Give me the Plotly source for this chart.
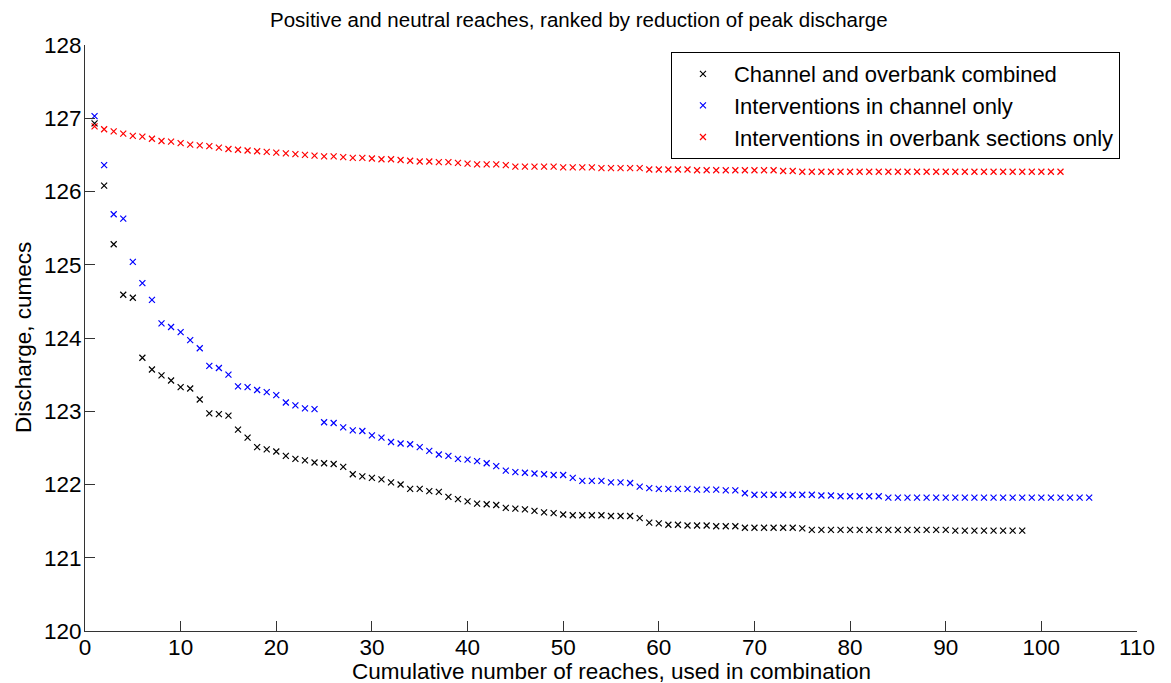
import plotly.graph_objects as go

# ---- data ----
combined = [126.93, 126.08, 125.28, 124.59, 124.55, 123.73, 123.57, 123.49, 123.42, 123.33,
            123.31, 123.16, 122.97, 122.96, 122.94, 122.75, 122.64, 122.51, 122.48, 122.45,
            122.39, 122.35, 122.33, 122.30, 122.29, 122.28, 122.24, 122.14, 122.11, 122.09,
            122.07, 122.03, 122.00, 121.94, 121.94, 121.91, 121.90, 121.83, 121.80, 121.77,
            121.74, 121.73, 121.72, 121.68, 121.67, 121.66, 121.64, 121.62, 121.61, 121.59,
            121.58, 121.58, 121.58, 121.58, 121.57, 121.57, 121.57, 121.54, 121.48, 121.47,
            121.45, 121.45, 121.44, 121.44, 121.44, 121.43, 121.43, 121.43, 121.41, 121.41,
            121.41, 121.41, 121.41, 121.41, 121.40, 121.38, 121.38, 121.38, 121.38, 121.38,
            121.38, 121.38, 121.38, 121.38, 121.38, 121.38, 121.38, 121.38, 121.38, 121.38,
            121.37, 121.37, 121.37, 121.37, 121.37, 121.37, 121.37, 121.37]

channel = [127.03, 126.36, 125.69, 125.63, 125.04, 124.75, 124.52, 124.20, 124.15, 124.08,
           123.97, 123.86, 123.62, 123.59, 123.50, 123.34, 123.33, 123.29, 123.26, 123.22,
           123.12, 123.08, 123.04, 123.03, 122.85, 122.84, 122.78, 122.74, 122.73, 122.67,
           122.64, 122.58, 122.56, 122.55, 122.51, 122.46, 122.41, 122.39, 122.35, 122.34,
           122.32, 122.29, 122.25, 122.19, 122.17, 122.16, 122.15, 122.14, 122.13, 122.13,
           122.09, 122.05, 122.05, 122.05, 122.03, 122.03, 122.02, 121.97, 121.95, 121.94,
           121.94, 121.94, 121.94, 121.93, 121.93, 121.93, 121.92, 121.92, 121.88, 121.86,
           121.86, 121.86, 121.86, 121.86, 121.86, 121.86, 121.85, 121.85, 121.84, 121.84,
           121.84, 121.84, 121.84, 121.82, 121.82, 121.82, 121.82, 121.82, 121.82, 121.82,
           121.82, 121.82, 121.82, 121.82, 121.82, 121.82, 121.82, 121.82, 121.82, 121.82,
           121.82, 121.82, 121.82, 121.82, 121.82]

overbank = [126.89, 126.85, 126.82, 126.79, 126.76, 126.75, 126.72, 126.69, 126.68, 126.66,
            126.64, 126.63, 126.62, 126.60, 126.58, 126.57, 126.56, 126.55, 126.54, 126.53,
            126.52, 126.51, 126.50, 126.49, 126.48, 126.48, 126.47, 126.46, 126.46, 126.45,
            126.44, 126.44, 126.43, 126.42, 126.41, 126.41, 126.40, 126.40, 126.39, 126.38,
            126.37, 126.37, 126.37, 126.36, 126.34, 126.34, 126.34, 126.34, 126.34, 126.33,
            126.33, 126.33, 126.33, 126.32, 126.32, 126.32, 126.32, 126.32, 126.30, 126.30,
            126.30, 126.30, 126.30, 126.29, 126.29, 126.29, 126.29, 126.29, 126.29, 126.29,
            126.29, 126.29, 126.28, 126.28, 126.27, 126.27, 126.27, 126.27, 126.27, 126.27,
            126.27, 126.27, 126.27, 126.27, 126.27, 126.27, 126.27, 126.27, 126.27, 126.27,
            126.27, 126.27, 126.27, 126.27, 126.27, 126.27, 126.27, 126.27, 126.27, 126.27,
            126.27, 126.27]

series_names = ["Channel and overbank combined",
                "Interventions in channel only",
                "Interventions in overbank sections only"]
series_colors = ["#000000", "#0000ff", "#ff0000"]
x_ticks = list(range(0, 111, 10))
y_ticks = list(range(120, 129))

FONT = "Liberation Sans, Arial, Helvetica, sans-serif"

fig = go.Figure()
for name, vals, col in zip(series_names, [combined, channel, overbank], series_colors):
    fig.add_trace(go.Scatter(
        x=list(range(1, len(vals) + 1)), y=vals, mode="markers", name=name,
        marker=dict(symbol="x-thin", size=6, color=col, line=dict(color=col, width=1.2)),
    ))

# the page body has an 8px margin, so the figure is 8px smaller and shifted
fig.update_layout(
    width=1163, height=675,
    paper_bgcolor="white", plot_bgcolor="white",
    margin=dict(l=77, r=34, t=37, b=52),
    font=dict(family=FONT, size=22, color="black"),
    showlegend=True,
    legend=dict(x=0.557, y=0.988, xanchor="left", yanchor="top",
                bordercolor="black", borderwidth=1, bgcolor="white",
                font=dict(size=22), itemwidth=52, tracegroupgap=0),
    xaxis=dict(range=[0, 110], tickvals=x_ticks, ticks="inside", ticklen=10,
               showline=True, linecolor="#333333", linewidth=1, tickcolor="#333333",
               showgrid=False, zeroline=False, tickfont=dict(size=22.5),
               ticklabelstandoff=-4),
    yaxis=dict(range=[120, 128], tickvals=y_ticks, ticks="inside", ticklen=10,
               showline=True, linecolor="#333333", linewidth=1, tickcolor="#333333",
               showgrid=False, zeroline=False, tickfont=dict(size=22.5),
               ticklabelstandoff=-2),
    annotations=[
        dict(text="Positive and neutral reaches, ranked by reduction of peak discharge",
             xref="paper", yref="paper", x=0.4696, y=1, yshift=12,
             xanchor="center", yanchor="bottom", showarrow=False, font=dict(size=20.5)),
        dict(text="Cumulative number of reaches, used in combination",
             xref="paper", yref="paper", x=0.5, y=0, yshift=-26,
             xanchor="center", yanchor="top", showarrow=False, font=dict(size=22.5)),
        dict(text="Discharge, cumecs", textangle=-90,
             xref="paper", yref="paper", x=0, xshift=-62, y=0.5,
             xanchor="center", yanchor="middle", showarrow=False, font=dict(size=22.5)),
    ],
)

fig.write_html("out.html")
